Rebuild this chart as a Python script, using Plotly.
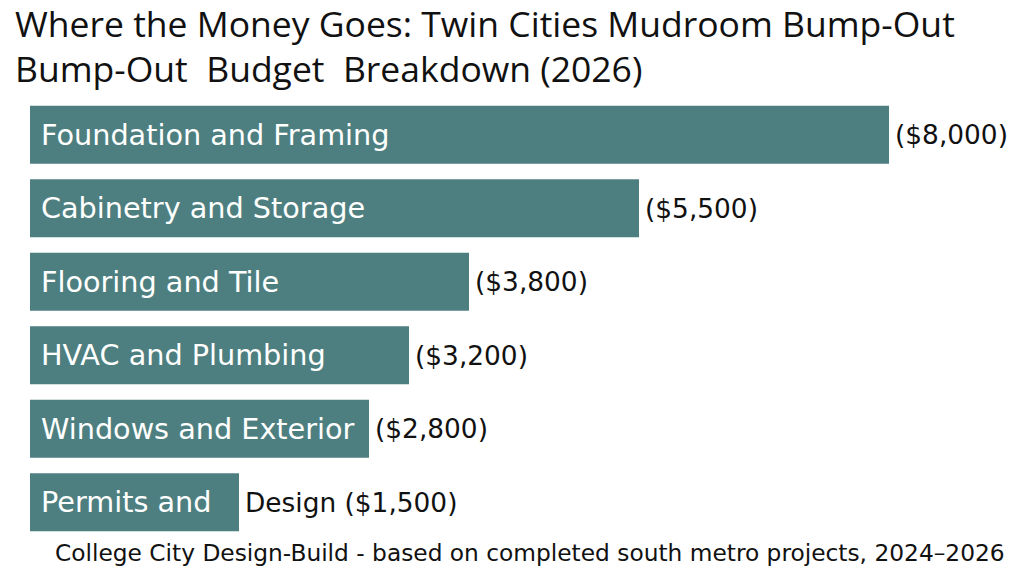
import plotly.graph_objects as go

categories = ["Foundation and Framing", "Cabinetry and Storage", "Flooring and Tile",
              "HVAC and Plumbing", "Windows and Exterior", "Permits and Design"]
costs = [8000, 5500, 3800, 3200, 2800, 1500]
# text shown inside each bar and just past its end (as in the reference)
inside_text = ["Foundation and Framing", "Cabinetry and Storage", "Flooring and Tile",
               "HVAC and Plumbing", "Windows and Exterior", "Permits and"]
outside_prefix = ["", "", "", "", "", "Design "]

title_line1 = "Where the Money Goes: Twin Cities Mudroom Bump-Out"
title_line2 = "Bump-Out\u00a0\u00a0Budget\u00a0\u00a0Breakdown (2026)"
caption = "College City Design-Build - based on completed south metro projects, 2024\u20132026"

BAR = "#4e7f80"
TFONT = "Open Sans"
FONT = "DejaVu Sans"
BASE = -590          # bars start a little left of zero, leaving room for the labels
XMAX = 9210

outside_text = [f"{p}(${v:,})" for p, v in zip(outside_prefix, costs)]

fig = go.Figure(go.Bar(
    x=[v - BASE for v in costs], base=BASE, y=categories, orientation="h",
    marker=dict(color=BAR, line=dict(width=0)),
    width=0.79, hoverinfo="skip",
))

for cat, v, lab, out in zip(categories, costs, inside_text, outside_text):
    fig.add_annotation(x=BASE, y=cat, xref="x", yref="y", text=lab, showarrow=False,
                       xanchor="left", yanchor="middle", xshift=9,
                       font=dict(family=FONT, size=28.7, color="white"))
    fig.add_annotation(x=v, y=cat, xref="x", yref="y", text=out, showarrow=False,
                       xanchor="left", yanchor="middle", xshift=4,
                       font=dict(family=FONT, size=26.4, color="#111111"))

# plot area: left 30px, top 98px, bottom 539px
fig.add_annotation(x=0.510, y=0, xref="paper", yref="paper", yshift=-13,
                   text=caption, showarrow=False, xanchor="center", yanchor="middle",
                   font=dict(family=FONT, size=23.3, color="#111111"))
fig.add_annotation(x=0, y=1, xref="paper", yref="paper", xshift=-17, yshift=98 - 23,
                   text=title_line1, showarrow=False, xanchor="left", yanchor="middle",
                   font=dict(family=TFONT, size=35.5, color="#111111"))
fig.add_annotation(x=0, y=1, xref="paper", yref="paper", xshift=-17, yshift=98 - 68,
                   text=title_line2, showarrow=False, xanchor="left", yanchor="middle",
                   font=dict(family=TFONT, size=35.5, color="#111111"))

fig.update_layout(
    width=1024, height=572,
    margin=dict(l=30, r=14, t=98, b=33),
    paper_bgcolor="white", plot_bgcolor="white",
    showlegend=False,
    xaxis=dict(range=[BASE, XMAX], visible=False, fixedrange=True),
    yaxis=dict(autorange="reversed", visible=False, fixedrange=True),
    bargap=0.21,
)

fig.write_html("out.html")
